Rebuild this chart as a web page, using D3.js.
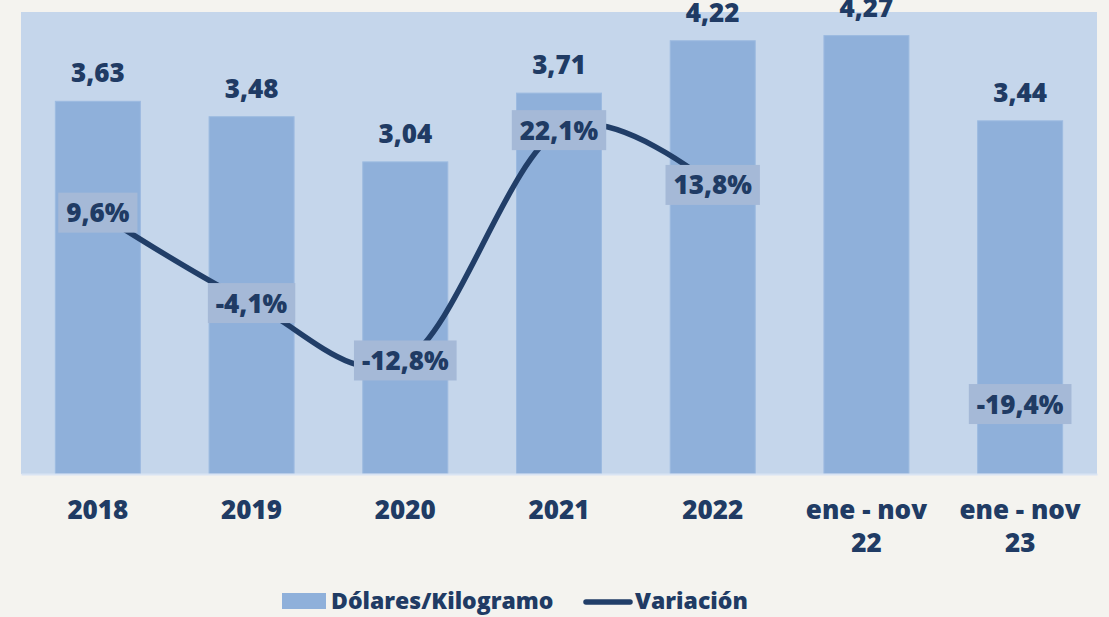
<!DOCTYPE html>
<html>
<head>
<meta charset="utf-8">
<script src="https://cdn.jsdelivr.net/npm/d3@7"></script>
<style>
  html, body { margin: 0; padding: 0; background: #f4f3ef; }
  svg { display: block; }
  text { font-family: "Open Sans", sans-serif; font-weight: 800; fill: #203b64; }
</style>
</head>
<body>
<svg id="chart" width="1109" height="617"></svg>
<script>
// ---- data ----
const categories = ["2018", "2019", "2020", "2021", "2022", "ene - nov|22", "ene - nov|23"];
const pricePerKg = [3.63, 3.48, 3.04, 3.71, 4.22, 4.27, 3.44];
const variation = [9.6, -4.1, -12.8, 22.1, 13.8, null, -19.4];
const seriesNames = ["Dólares/Kilogramo", "Variación"];

// ---- setup ----
const W = 1109, H = 617;
const plot = { left: 21, right: 1097, top: 12, bottom: 474 };
const colors = {
  plotBg: "#c5d6eb",
  bar: "#8fb0da",
  barEdge: "#9cbae0",
  line: "#213e68",
  labelBox: "#a5b9d7",
  axis: "#d9e4f3"
};

const loc = d3.formatLocale({ decimal: ",", thousands: ".", grouping: [3], currency: ["$", ""], minus: "-" });
const fmtVal = loc.format(".2f");
const fmtPct = v => loc.format(".1f")(v) + "%";

const svg = d3.select("#chart");

const x = d3.scaleBand()
  .domain(categories)
  .range([plot.left, plot.right])
  .paddingInner(0.447)
  .paddingOuter(0.2235);

const y = d3.scaleLinear().domain([0, 4.5]).range([plot.bottom, plot.top]);
const y2 = d3.scaleLinear().domain([-30, 40]).range([plot.bottom, plot.top]);

// plot background
svg.append("rect")
  .attr("x", plot.left).attr("y", plot.top)
  .attr("width", plot.right - plot.left)
  .attr("height", plot.bottom - plot.top)
  .attr("fill", colors.plotBg);

// bars
svg.append("g").selectAll("rect")
  .data(categories)
  .join("rect")
  .attr("x", d => x(d))
  .attr("y", (d, i) => y(pricePerKg[i]))
  .attr("width", x.bandwidth())
  .attr("height", (d, i) => y(0) - y(pricePerKg[i]))
  .attr("fill", colors.bar)
  .attr("stroke", colors.barEdge)
  .attr("stroke-width", 1);

// x axis
const xAxis = svg.append("g")
  .attr("transform", `translate(0,${plot.bottom})`)
  .call(d3.axisBottom(x).tickSize(0).tickFormat(""));
xAxis.select(".domain").attr("stroke", colors.axis).attr("stroke-width", 2);
xAxis.selectAll(".tick").each(function(d) {
  const lines = d.split("|");
  const t = d3.select(this).append("text")
    .attr("text-anchor", "middle")
    .attr("font-size", 26)
    .attr("y", 45);
  lines.forEach((ln, k) => {
    t.append("tspan").attr("x", 0).attr("dy", k === 0 ? 0 : 33).text(ln);
  });
});

// value labels
svg.append("g").selectAll("text")
  .data(categories)
  .join("text")
  .attr("x", d => x(d) + x.bandwidth() / 2)
  .attr("y", (d, i) => y(pricePerKg[i]) - 19)
  .attr("text-anchor", "middle")
  .attr("font-size", 26)
  .text((d, i) => fmtVal(pricePerKg[i]));

// variation line
const cx = d => x(d) + x.bandwidth() / 2;
const linePts = categories.map((c, i) => ({ c, v: variation[i] }));
const lineGen = d3.line()
  .defined(d => d.v != null)
  .x(d => cx(d.c))
  .y(d => y2(d.v))
  .curve(d3.curveCardinal.tension(0));
svg.append("path")
  .datum(linePts)
  .attr("d", lineGen)
  .attr("fill", "none")
  .attr("stroke", colors.line)
  .attr("stroke-width", 5.5)
  .attr("stroke-linecap", "round");

// variation labels with boxes
const pctG = svg.append("g").selectAll("g")
  .data(linePts.filter(d => d.v != null))
  .join("g")
  .attr("transform", d => `translate(${cx(d.c)},${y2(d.v)})`);
pctG.each(function(d) {
  const g = d3.select(this);
  const t = g.append("text")
    .attr("text-anchor", "middle")
    .attr("font-size", 26)
    .attr("y", 9.5)
    .text(fmtPct(d.v));
  const w = t.node().getComputedTextLength() + 16;
  g.insert("rect", "text")
    .attr("x", -w / 2).attr("y", -20)
    .attr("width", w).attr("height", 40)
    .attr("fill", colors.labelBox);
});

// legend
const leg = svg.append("g");
leg.append("rect")
  .attr("x", 282).attr("y", 593).attr("width", 44).attr("height", 16)
  .attr("fill", colors.bar);
leg.append("text").attr("x", 331).attr("y", 609).attr("font-size", 23).text(seriesNames[0]);
leg.append("line")
  .attr("x1", 586).attr("x2", 630).attr("y1", 602).attr("y2", 602)
  .attr("stroke", colors.line).attr("stroke-width", 5.5).attr("stroke-linecap", "round");
leg.append("text").attr("x", 635).attr("y", 609).attr("font-size", 23).text(seriesNames[1]);
</script>
</body>
</html>
